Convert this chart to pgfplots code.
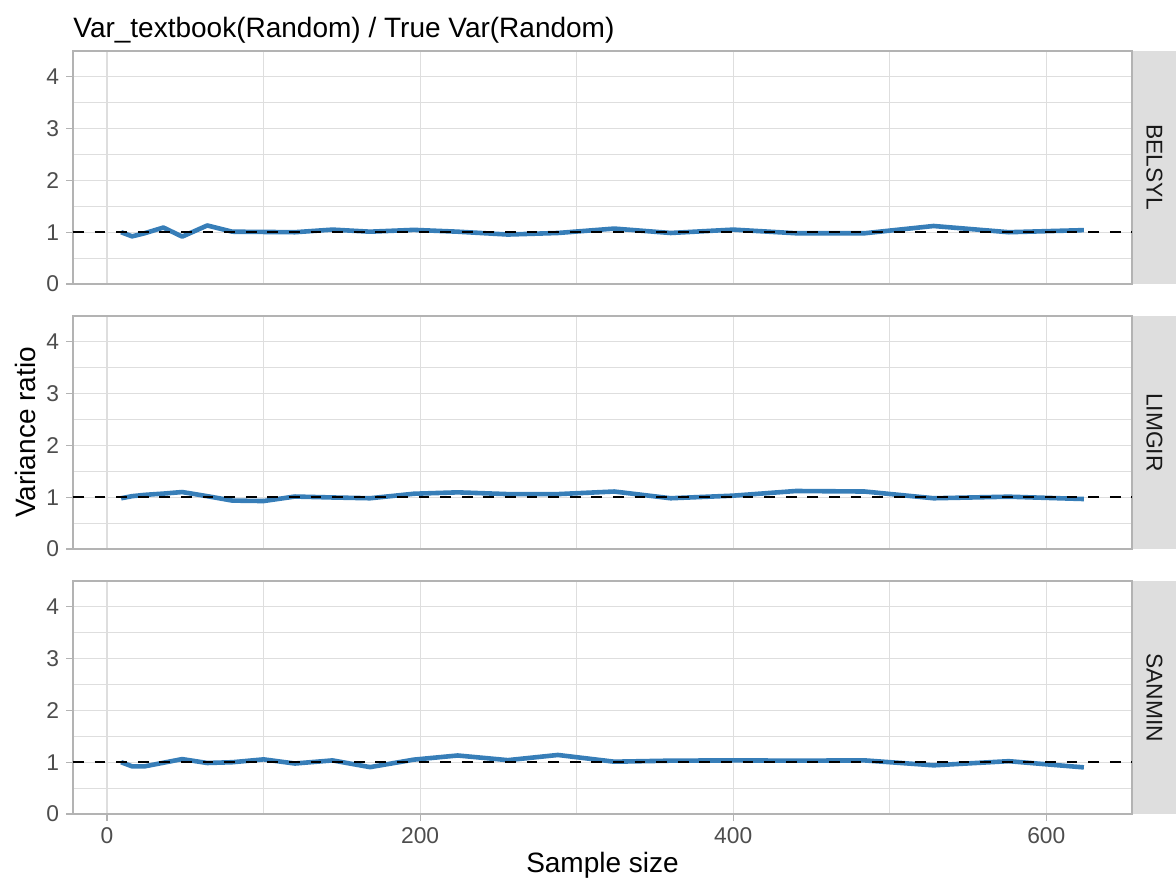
\documentclass[border=0pt]{standalone}
\usepackage{fontspec}
\setmainfont{Liberation Sans}
\usepackage{pgfplots}
\usepackage{pgfplotstable}
\pgfplotsset{compat=1.18}
\definecolor{gridc}{HTML}{DEDEDE}
\definecolor{borderc}{HTML}{B3B3B3}
\definecolor{tickc}{HTML}{4D4D4D}
\definecolor{stripc}{HTML}{DEDEDE}
\definecolor{linec}{HTML}{377EB8}

\pgfplotstableread{
x y
9 1.00
16 0.92
24 0.98
36 1.09
48 0.915
64 1.13
80 1.01
100 1.005
120 1.00
144 1.05
168 1.01
196 1.045
224 1.01
256 0.955
288 0.985
324 1.07
360 0.985
400 1.05
440 0.98
484 0.98
528 1.12
576 1.00
624 1.04
}\belsyl

\pgfplotstableread{
x y
9 0.98
16 1.02
24 1.045
36 1.07
48 1.10
64 1.02
80 0.935
100 0.926
120 1.013
144 0.995
168 0.98
196 1.067
224 1.094
256 1.06
288 1.06
324 1.11
360 0.98
400 1.03
440 1.12
484 1.11
528 0.98
576 1.01
624 0.965
}\limgir

\pgfplotstableread{
x y
9 1.00
16 0.92
24 0.92
36 0.99
48 1.06
64 0.985
80 1.00
100 1.055
120 0.975
144 1.035
168 0.905
196 1.05
224 1.13
256 1.04
288 1.14
324 1.01
360 1.03
400 1.035
440 1.03
484 1.035
528 0.94
576 1.02
624 0.90
}\sanmin

\pgfplotsset{
  panel/.style={
    scale only axis, width=529.5pt, height=116.5pt, anchor=south west,
    xmin=-21.75, xmax=654.75, ymin=0, ymax=4.5,
    xtick={0,200,400,600}, minor xtick={100,300,500},
    ytick={0,1,2,3,4}, minor ytick={0.5,1.5,2.5,3.5},
    grid=both,
    major grid style={draw=gridc, line width=0.55pt},
    minor grid style={draw=gridc, line width=0.35pt},
    axis line style={draw=borderc, line width=0.9pt},
    tick style={draw=borderc, line width=0.55pt},
    tick align=outside, major tick length=3.5pt, minor tick length=0pt,
    xtick pos=lower, ytick pos=left,
    ticklabel style={font=\fontsize{11.4}{13}\selectfont, text=tickc},
    /pgf/number format/assume math mode=true,
  },
  nox/.style={xticklabels={}, xtick style={draw=none}},
  ratio/.style={draw=linec, line width=2.3pt, line join=round, no marks},
  ref/.style={draw=black, line width=1.1pt, dash pattern=on 5.4pt off 5.4pt, no marks},
}

\begin{document}
\begin{tikzpicture}
\path[use as bounding box] (0,0) rectangle (588pt,440.5pt);

\begin{axis}[panel, nox, at={(36.5pt,298.5pt)}]
\addplot[ratio] table[x=x,y=y] {\belsyl};
\addplot[ref] coordinates {(-21.75,1) (654.75,1)};
\end{axis}

\begin{axis}[panel, nox, at={(36.5pt,166pt)}]
\addplot[ratio] table[x=x,y=y] {\limgir};
\addplot[ref] coordinates {(-21.75,1) (654.75,1)};
\end{axis}

\begin{axis}[panel, at={(36.5pt,33.5pt)}]
\addplot[ratio] table[x=x,y=y] {\sanmin};
\addplot[ref] coordinates {(-21.75,1) (654.75,1)};
\end{axis}

\fill[stripc] (566.4pt,298.5pt) rectangle (588pt,415pt);
\fill[stripc] (566.4pt,166pt) rectangle (588pt,282.5pt);
\fill[stripc] (566.4pt,33.5pt) rectangle (588pt,150pt);
\node[rotate=-90, font=\fontsize{11.4}{13}\selectfont, text=black!90] at (577.2pt,356.75pt) {BELSYL};
\node[rotate=-90, font=\fontsize{11.4}{13}\selectfont, text=black!90] at (577.2pt,224.25pt) {LIMGIR};
\node[rotate=-90, font=\fontsize{11.4}{13}\selectfont, text=black!90] at (577.2pt,91.75pt) {SANMIN};

\node[rotate=90, font=\fontsize{14}{16}\selectfont, anchor=center] at (12.5pt,224.25pt) {Variance ratio};
\node[font=\fontsize{14}{16}\selectfont, anchor=base, inner sep=0pt] at (301.25pt,4pt) {Sample size};
\node[font=\fontsize{14}{16}\selectfont, anchor=base west, inner sep=0pt] at (36.5pt,421.5pt) {Var\_textbook(Random) / True Var(Random)};
\end{tikzpicture}
\end{document}
